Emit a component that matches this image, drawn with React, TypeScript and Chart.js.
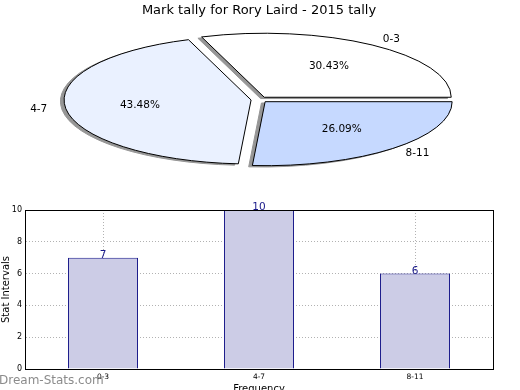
import React, { useEffect, useRef } from 'react';
import { Chart, registerables } from 'chart.js';
Chart.register(...registerables);

const chartTitle = 'Mark tally for Rory Laird - 2015 tally';
const pieLabels = ['0-3', '4-7', '8-11'];
const pieValues = [7, 10, 6];
const pieColors = ['#ffffff', '#eaf1ff', '#c6d9ff'];

const barLabels = ['0-3', '4-7', '8-11'];
const barValues = [7, 10, 6];
const yAxisTitle = 'Stat Intervals';
const xAxisTitle = 'Frequency';
const yMin = 0;
const yMax = 10;
const yStep = 2;
const watermark = 'Dream-Stats.com';

const FONT = "'DejaVu Sans', sans-serif";

// pie placement (ellipse squashed vertically)
const PIE_CX = 259.4;
const PIE_CY = 99.6;
const PIE_R = 187;
const PIE_SY = 64 / 187;
const PIE_OFF = 8.4;
const SHADOW_DX = -3.7;
const SHADOW_DY = 1.3;
const SHADOW_COLOR = 'rgb(150,150,150)';

const BAR_TOP = 195;
const BAR_H = 215;

export default function App() {
  const pieRef = useRef<HTMLCanvasElement>(null);
  const barRef = useRef<HTMLCanvasElement>(null);

  useEffect(() => {
    const pieCanvas = pieRef.current!;
    const barCanvas = barRef.current!;

    const piePlugin = {
      id: 'ellipsePie',
      beforeDatasetsDraw(chart: any) {
        const ctx = chart.ctx;
        const arcs = chart.getDatasetMeta(0).data as any[];
        const setT = (arc: any, dx: number, dy: number) => {
          const mid = (arc.startAngle + arc.endAngle) / 2;
          ctx.translate(PIE_CX + dx, PIE_CY + dy);
          ctx.scale(1, -PIE_SY);
          ctx.translate(Math.cos(mid) * PIE_OFF, Math.sin(mid) * PIE_OFF);
          ctx.translate(-arc.x, -arc.y);
        };
        arcs.forEach((arc) => {
          const orig = arc.options;
          arc.options = { ...orig, backgroundColor: SHADOW_COLOR, borderWidth: 0 };
          ctx.save();
          setT(arc, SHADOW_DX, SHADOW_DY);
          arc.draw(ctx);
          ctx.restore();
          ctx.save();
          ctx.lineWidth = 1;
          ctx.strokeStyle = SHADOW_COLOR;
          ctx.stroke();
          ctx.restore();
          arc.options = orig;
        });
        arcs.forEach((arc) => {
          ctx.save();
          setT(arc, 0, 0);
          arc.draw(ctx);
          ctx.restore();
          ctx.save();
          ctx.lineWidth = 1;
          ctx.strokeStyle = '#000';
          ctx.lineJoin = 'miter';
          ctx.stroke();
          ctx.restore();
        });
        return false;
      },
      afterDraw(chart: any) {
        const ctx = chart.ctx;
        const arcs = chart.getDatasetMeta(0).data as any[];
        const vals = chart.data.datasets[0].data as number[];
        const labels = chart.data.labels as string[];
        const total = vals.reduce((a, b) => a + b, 0);
        ctx.save();
        ctx.fillStyle = '#000';
        ctx.font = `10.5px ${FONT}`;
        ctx.textBaseline = 'middle';
        arcs.forEach((arc, i) => {
          const mid = (arc.startAngle + arc.endAngle) / 2;
          const c = Math.cos(mid);
          const s = Math.sin(mid);
          const ax = PIE_CX + c * PIE_OFF;
          const ay = PIE_CY - s * PIE_OFF * PIE_SY;
          ctx.textAlign = c > 0 ? 'left' : 'right';
          ctx.fillText(labels[i], ax + 1.1 * PIE_R * c, ay - 1.1 * PIE_R * PIE_SY * s);
          ctx.textAlign = 'center';
          const pct = ((vals[i] / total) * 100).toFixed(2) + '%';
          ctx.fillText(pct, ax + 0.6 * PIE_R * c, ay - 0.6 * PIE_R * PIE_SY * s);
        });
        ctx.font = `13px ${FONT}`;
        ctx.textAlign = 'center';
        ctx.textBaseline = 'alphabetic';
        ctx.fillText(chartTitle, 259, 14);
        ctx.restore();
      },
    };

    const pie = new Chart(pieCanvas, {
      type: 'pie',
      data: {
        labels: pieLabels,
        datasets: [
          {
            data: pieValues,
            backgroundColor: pieColors,
            borderWidth: 0,
            radius: PIE_R,
          } as any,
        ],
      },
      options: {
        animation: false,
        responsive: false,
        events: [],
        rotation: 90,
        plugins: {
          legend: { display: false },
          tooltip: { enabled: false },
          title: { display: false },
        },
      } as any,
      plugins: [piePlugin],
    });

    const barPlugin = {
      id: 'barExtras',
      afterDraw(chart: any) {
        const ctx = chart.ctx;
        const { left, right, top, bottom } = chart.chartArea;
        ctx.save();
        // frame
        ctx.strokeStyle = '#000';
        ctx.lineWidth = 1;
        ctx.strokeRect(Math.round(left) + 0.5, Math.round(top) + 0.5, Math.round(right) - Math.round(left), Math.round(bottom) - Math.round(top));
        // value labels
        const meta = chart.getDatasetMeta(0);
        const vals = chart.data.datasets[0].data as number[];
        ctx.fillStyle = '#1a1a8a';
        ctx.font = `10.5px ${FONT}`;
        ctx.textAlign = 'center';
        ctx.textBaseline = 'alphabetic';
        meta.data.forEach((bar: any, i: number) => {
          ctx.fillText(String(vals[i]), bar.x, bar.y);
        });
        // axis titles
        ctx.fillStyle = '#000';
        ctx.font = `10px ${FONT}`;
        ctx.fillText(xAxisTitle, (left + right) / 2, bottom + 23);
        ctx.save();
        ctx.translate(8.5, (top + bottom) / 2);
        ctx.rotate(-Math.PI / 2);
        ctx.fillText(yAxisTitle, 0, 0);
        ctx.restore();
        // watermark
        ctx.fillStyle = 'rgba(110,110,110,0.8)';
        ctx.font = `12px ${FONT}`;
        ctx.textAlign = 'left';
        ctx.fillText(watermark, -1, 384 - BAR_TOP);
        ctx.restore();
      },
    };

    const bar = new Chart(barCanvas, {
      type: 'bar',
      data: {
        labels: barLabels,
        datasets: [
          {
            data: barValues,
            backgroundColor: 'rgb(204,204,230)',
            borderColor: '#1a1a8a',
            borderWidth: 1,
            barPercentage: 0.449,
            categoryPercentage: 1,
          },
        ],
      },
      options: {
        animation: false,
        responsive: false,
        events: [],
        layout: { padding: { top: 15, right: 27, left: 0, bottom: 0 } },
        plugins: {
          legend: { display: false },
          tooltip: { enabled: false },
          title: { display: false },
        },
        scales: {
          x: {
            grid: { display: true, offset: false, drawTicks: false, color: 'rgba(0,0,0,0.3)', lineWidth: 1 },
            border: { display: true, color: '#000', width: 1, dash: [1, 2] },
            ticks: { font: { size: 7.5, family: FONT }, color: '#000', padding: 4, maxRotation: 0 },
            afterFit(s: any) {
              s.height = BAR_H - 174;
            },
          },
          y: {
            min: yMin,
            max: yMax,
            ticks: { stepSize: yStep, font: { size: 8, family: FONT }, color: '#000', padding: 3 },
            grid: { drawTicks: false, color: 'rgba(0,0,0,0.3)', lineWidth: 1 },
            border: { display: true, color: '#000', width: 1, dash: [1, 2] },
            afterFit(s: any) {
              s.width = 25;
            },
          },
        },
      } as any,
      plugins: [barPlugin],
    });

    return () => {
      pie.destroy();
      bar.destroy();
    };
  }, []);

  return (
    <div
      style={{
        position: 'fixed',
        left: 0,
        top: 0,
        width: 520,
        height: 390,
        overflow: 'hidden',
        background: '#fff',
      }}
    >
      <canvas
        ref={barRef}
        width={520}
        height={BAR_H}
        style={{ position: 'absolute', left: 0, top: BAR_TOP, width: 520, height: BAR_H }}
      />
      <canvas
        ref={pieRef}
        width={520}
        height={195}
        style={{ position: 'absolute', left: 0, top: 0, width: 520, height: 195 }}
      />
    </div>
  );
}
